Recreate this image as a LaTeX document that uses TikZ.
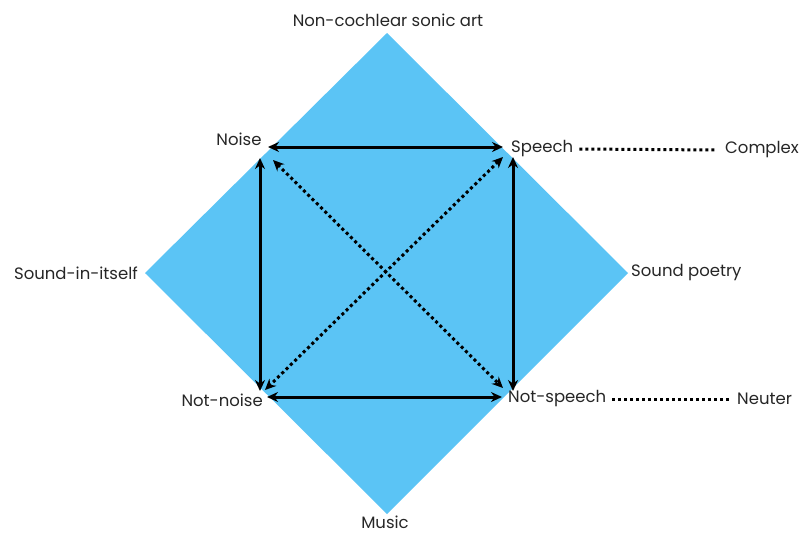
\documentclass[tikz,border=0pt]{standalone}
\usepackage{fontspec}
\setmainfont{Poppins}
\usetikzlibrary{arrows.meta}
\definecolor{dia}{HTML}{5BC4F5}
\tikzset{
  lbl/.style={font=\fontsize{16.5}{18}\selectfont, text=black!85, inner sep=0pt},
  solidarr/.style={line width=3pt, {Stealth[length=11pt,width=10pt]}-{Stealth[length=11pt,width=10pt]}},
  dotarr/.style={line width=3pt, dash pattern=on 3pt off 3pt, {Stealth[length=11pt,width=10pt]}-{Stealth[length=11pt,width=10pt]}},
  dotline/.style={line width=3pt, dash pattern=on 3pt off 3pt},
}
\begin{document}
\begin{tikzpicture}[x=1pt,y=-1pt]
\useasboundingbox (0,0) rectangle (812,533);
\fill[dia] (387,33) -- (628,273) -- (387,514) -- (145,273) -- cycle;
% labels
\node[lbl] (top) at (388,20) {Non-cochlear sonic art};
\node[lbl, anchor=east] (left) at (138,273) {Sound-in-itself};
\node[lbl, anchor=west] (right) at (631,273) {Sound poetry};
\node[lbl] (bot) at (385,522) {Music};
\node[lbl] (noise) at (239,139) {Noise};
\node[lbl, anchor=west] (speech) at (511,149) {Speech};
\node[lbl, anchor=west] (complex) at (725,150) {Complex};
\node[lbl, anchor=east] (notnoise) at (263,400) {Not-noise};
\node[lbl, anchor=west] (notspeech) at (508,399) {Not-speech};
\node[lbl, anchor=west] (neuter) at (737,399) {Neuter};
% arrow ends
\coordinate (t1) at (268,147); \coordinate (t2) at (503,147);
\coordinate (b1) at (267,397); \coordinate (b2) at (502,397);
\coordinate (l1) at (260,158); \coordinate (l2) at (260,391);
\coordinate (r1) at (513,157); \coordinate (r2) at (513,391);
\coordinate (d1) at (273,160); \coordinate (d2) at (503,388);
\coordinate (e1) at (503,157); \coordinate (e2) at (265,390);
\draw[solidarr] (t1) -- (t2);
\draw[solidarr] (b1) -- (b2);
\draw[solidarr] (l1) -- (l2);
\draw[solidarr] (r1) -- (r2);
\draw[dotarr] (d1) -- (d2);
\draw[dotarr] (e1) -- (e2);
\draw[dotline] ([xshift=6pt]speech.east) -- ([xshift=-8pt]complex.west);
\draw[dotline] ([xshift=6pt]notspeech.east) -- ([xshift=-6pt]neuter.west);
\end{tikzpicture}
\end{document}
